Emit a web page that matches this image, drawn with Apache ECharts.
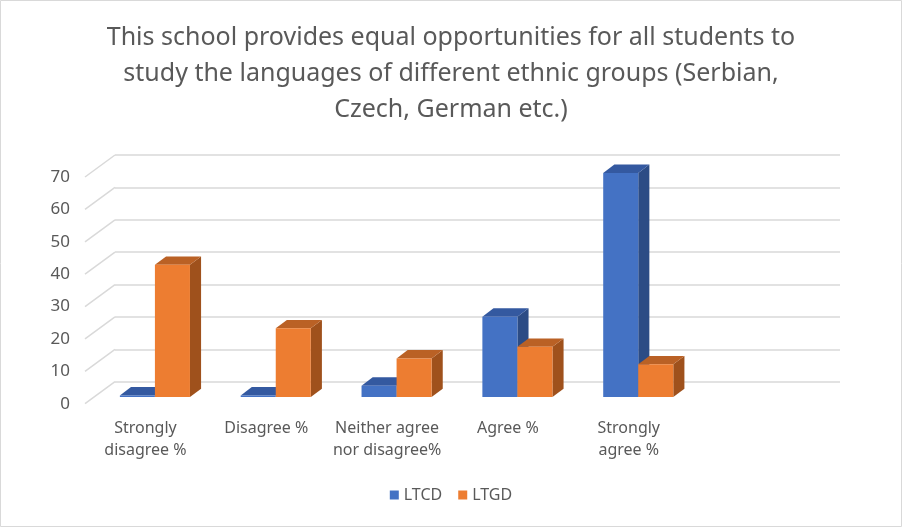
<!DOCTYPE html>
<html>
<head>
<meta charset="utf-8">
<script src="https://cdn.jsdelivr.net/npm/echarts@6/dist/echarts.min.js"></script>
<style>
html,body{margin:0;padding:0;background:#fff;}
#chart{width:902px;height:527px;}
</style>
</head>
<body>
<div id="chart"></div>
<script>
// ---- data ----
const titleText = 'This school provides equal opportunities for all students to\nstudy the languages of different ethnic groups (Serbian,\nCzech, German etc.)';
const categories = ['Strongly\ndisagree %', 'Disagree %', 'Neither agree\nnor disagree%', 'Agree %', 'Strongly\nagree %', ''];
const seriesNames = ['LTCD', 'LTGD'];
const ltcd = [0.5, 0.5, 3.5, 24.8, 69.2];
const ltgd = [40.8, 21.2, 11.9, 15.5, 10.1];
const yTicks = [0, 10, 20, 30, 40, 50, 60, 70];

// ---- styling ----
const FONT = 'Noto Sans';
const TXT = '#595959';
const colors = {
  LTCD: {front: '#4472C4', side: '#2C4C85', top: '#3459A0'},
  LTGD: {front: '#ED7D31', side: '#9F511C', top: '#BA6125'}
};
// Back wall grid and perspective offsets
const back = {left: 115, right: 62, top: 155, bottom: 145.3};
const floorDX = -30, floorDY = 22;      // front edge of floor vs back wall
const barDX = -20.5, barDY = 15.3;      // front face of bars vs back wall

function shifted(dx, dy) {
  return {left: back.left + dx, right: back.right - dx, top: back.top + dy, bottom: back.bottom - dy};
}

function barRenderer(sIdx, c) {
  return function (params, api) {
    const ci = api.value(0), v = api.value(1);
    const base = api.coord([ci, 0]);
    const tp = api.coord([ci, v]);
    const band = api.size([1, 0])[0];
    const w = band * 0.29;
    const dx = band * 0.092, dy = dx * 0.75;
    const x0 = sIdx === 0 ? base[0] - w : base[0];
    const x1 = x0 + w;
    const yb = base[1], yt = tp[1];
    return {
      type: 'group',
      children: [
        {type: 'polygon', shape: {points: [[x1, yt], [x1 + dx, yt - dy], [x1 + dx, yb - dy], [x1, yb]]}, style: {fill: c.side}},
        {type: 'polygon', shape: {points: [[x0, yt], [x1, yt], [x1 + dx, yt - dy], [x0 + dx, yt - dy]]}, style: {fill: c.top}},
        {type: 'rect', shape: {x: x0, y: yt, width: w, height: yb - yt}, style: {fill: c.front}}
      ]
    };
  };
}

function wallRenderer(params, api) {
  const v = api.value(0);
  const p = api.coord([0, v]);
  const band = api.size([1, 0])[0];
  const x = p[0] - band / 2;
  return {
    type: 'line',
    shape: {x1: x, y1: p[1], x2: x + floorDX, y2: p[1] + floorDY},
    style: {stroke: '#d9d9d9', lineWidth: 1.5}
  };
}

const chart = echarts.init(document.getElementById('chart'), null, {renderer: 'canvas'});
const yBase = {type: 'value', min: 0, max: 70, interval: 10};
chart.setOption({
  backgroundColor: '#fff',
  animation: false,
  textStyle: {fontFamily: FONT},
  title: {
    text: titleText, left: 'center', top: 15,
    textStyle: {fontFamily: FONT, fontSize: 25, fontWeight: 'normal', color: TXT, lineHeight: 36}
  },
  legend: {
    bottom: 19, left: 'center', itemWidth: 9, itemHeight: 9, itemGap: 16,
    icon: 'rect',
    textStyle: {fontFamily: FONT, fontSize: 16, color: TXT},
    data: seriesNames
  },
  grid: [
    Object.assign({}, back),
    Object.assign({}, shifted(barDX, barDY)),
    Object.assign({}, shifted(floorDX, floorDY))
  ],
  xAxis: [
    {gridIndex: 0, type: 'category', data: categories, show: false},
    {gridIndex: 1, type: 'category', data: categories, show: false},
    {gridIndex: 2, type: 'category', data: categories,
      axisLine: {show: false}, axisTick: {show: false},
      axisLabel: {fontFamily: FONT, fontSize: 16, color: TXT, margin: 14, lineHeight: 22, interval: 0}}
  ],
  yAxis: [
    Object.assign({gridIndex: 0, axisLabel: {show: false}, axisLine: {show: false}, axisTick: {show: false},
      splitLine: {lineStyle: {color: '#d9d9d9', width: 1.5}}}, yBase),
    Object.assign({gridIndex: 1, show: false, splitLine: {show: false}}, yBase),
    Object.assign({gridIndex: 2, axisLine: {show: false}, axisTick: {show: false}, splitLine: {show: false},
      axisLabel: {fontFamily: FONT, fontSize: 17, color: TXT, margin: 15}}, yBase)
  ],
  series: [
    {type: 'custom', xAxisIndex: 0, yAxisIndex: 0, silent: true, renderItem: wallRenderer,
      data: yTicks.map(v => [v]), encode: {y: 0}},
    {name: 'LTCD', type: 'custom', xAxisIndex: 1, yAxisIndex: 1, itemStyle: {color: colors.LTCD.front},
      renderItem: barRenderer(0, colors.LTCD), data: ltcd.map((v, i) => [i, v]), encode: {x: 0, y: 1}, z: 3},
    {name: 'LTGD', type: 'custom', xAxisIndex: 1, yAxisIndex: 1, itemStyle: {color: colors.LTGD.front},
      renderItem: barRenderer(1, colors.LTGD), data: ltgd.map((v, i) => [i, v]), encode: {x: 0, y: 1}, z: 4}
  ],
  graphic: [{
    type: 'rect', silent: true, z: 100,
    shape: {x: 0.5, y: 0.5, width: 901, height: 526},
    style: {fill: 'none', stroke: '#d9d9d9', lineWidth: 1}
  }]
});
</script>
</body>
</html>
